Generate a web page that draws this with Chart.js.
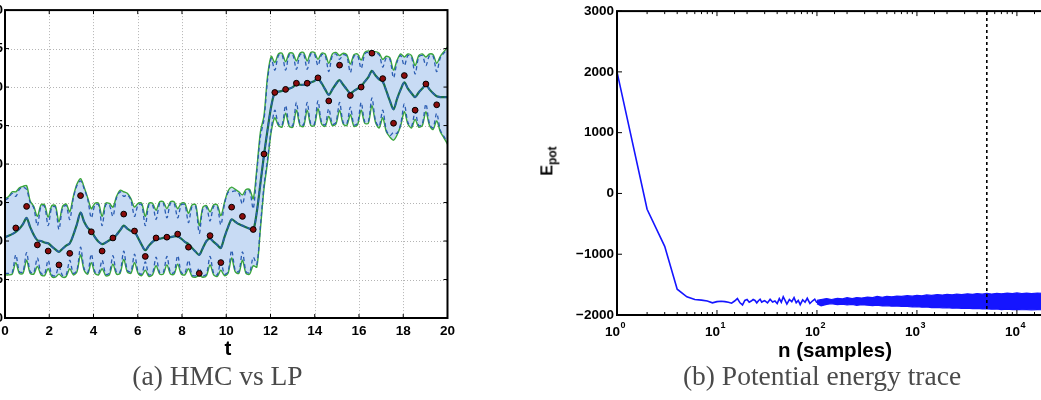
<!DOCTYPE html>
<html><head><meta charset="utf-8">
<script src="https://cdn.jsdelivr.net/npm/chart.js@4.4.1/dist/chart.umd.min.js"></script>
<style>
html,body{margin:0;padding:0;width:1041px;height:400px;overflow:hidden;background:#fff;}
#wrapA{position:absolute;left:-45px;top:0;width:505px;height:400px;}
#wrapB{position:absolute;left:557px;top:0;width:500px;height:400px;}
.lbl{position:absolute;transform:translate(-50%,-50%);white-space:nowrap;font-family:"Liberation Sans",Arial,sans-serif;font-weight:bold;color:#000;}
.cap{position:absolute;transform:translate(-50%,-50%);white-space:nowrap;font-family:"Liberation Serif","Times New Roman",serif;font-size:27.5px;color:#4a4a4a;}
</style></head>
<body>
<div id="wrapA"><canvas id="cA"></canvas></div>
<div id="wrapB"><canvas id="cB"></canvas></div>
<div class="lbl" style="left:228px;top:348px;font-size:20.5px;">t</div>
<div class="lbl" style="left:835px;top:350px;font-size:20.5px;">n (samples)</div>
<div class="lbl" style="left:549px;top:161px;transform:translate(-50%,-50%) rotate(-90deg);font-size:16px;">E<sub style="font-size:12px;">pot</sub></div>
<div class="cap" style="left:217.5px;top:376px;">(a) HMC vs LP</div>
<div class="cap" style="left:822px;top:376px;">(b) Potential energy trace</div>
<script>
// ---------- (a) HMC vs LP ----------
const tGrid = [
0, 0.163, 0.325,
0.488, 0.650, 0.813,
0.976, 1.138, 1.301,
1.463, 1.626, 1.789,
1.951, 2.114, 2.276,
2.439, 2.602, 2.764,
2.927, 3.089, 3.252,
3.415, 3.577, 3.740,
3.902, 4.065, 4.228,
4.390, 4.553, 4.715,
4.878, 5.041, 5.203,
5.366, 5.528, 5.691,
5.854, 6.016, 6.179,
6.341, 6.504, 6.667,
6.829, 6.992, 7.154,
7.317, 7.480, 7.642,
7.805, 7.967, 8.130,
8.293, 8.455, 8.618,
8.780, 8.943, 9.106,
9.268, 9.431, 9.593,
9.756, 9.919, 10.081,
10.244, 10.407, 10.569,
10.732, 10.894, 11.057,
11.220, 11.382, 11.545,
11.707, 11.870, 12.033,
12.195, 12.358, 12.520,
12.683, 12.846, 13.008,
13.171, 13.333, 13.496,
13.659, 13.821, 13.984,
14.146, 14.309, 14.472,
14.634, 14.797, 14.959,
15.122, 15.285, 15.447,
15.610, 15.772, 15.935,
16.098, 16.260, 16.423,
16.585, 16.748, 16.911,
17.073, 17.236, 17.398,
17.561, 17.724, 17.886,
18.049, 18.211, 18.374,
18.537, 18.699, 18.862,
19.024, 19.187, 19.350,
19.512, 19.675, 19.837,
20
];
const lpMean = [
-0.95, -0.93, -0.91,
-0.88, -0.84, -0.78,
-0.70, -0.82, -0.92,
-0.99, -1.00, -1.02,
-1.03, -1.07, -1.11,
-1.14, -1.10, -1.06,
-1.03, -0.92, -0.78,
-0.63, -0.75, -0.83,
-0.87, -0.95, -1.01,
-1.04, -1.02, -0.99,
-0.97, -0.92, -0.86,
-0.80, -0.84, -0.87,
-0.88, -0.96, -1.05,
-1.12, -1.06, -1.01,
-0.98, -0.97, -0.96,
-0.96, -0.95, -0.94,
-0.94, -0.97, -1.01,
-1.04, -1.09, -1.14,
-1.18, -1.09, -1.00,
-0.97, -1.01, -1.05,
-1.09, -0.95, -0.82,
-0.72, -0.75, -0.78,
-0.80, -0.82, -0.84,
-0.86, -0.62, -0.25,
0.12, 0.45, 0.75,
0.93, 0.94, 0.95,
0.96, 0.98, 1.00,
1.04, 1.03, 1.03,
1.04, 1.06, 1.08,
1.11, 1.05, 0.97,
0.90, 0.97, 1.04,
1.09, 1.03, 0.97,
0.92, 0.95, 0.98,
1.01, 1.07, 1.13,
1.21, 1.15, 1.10,
1.07, 0.95, 0.82,
0.71, 0.85, 0.97,
1.06, 0.98, 0.92,
0.87, 0.93, 0.98,
1.03, 0.97, 0.92,
0.88, 0.87, 0.87,
0.87
];
const lpUpper = [
-0.45, -0.42, -0.36,
-0.36, -0.31, -0.29,
-0.28, -0.48, -0.55,
-0.68, -0.53, -0.53,
-0.69, -0.54, -0.54,
-0.75, -0.55, -0.52,
-0.62, -0.42, -0.26,
-0.19, -0.30, -0.44,
-0.58, -0.51, -0.51,
-0.68, -0.51, -0.51,
-0.56, -0.42, -0.34,
-0.36, -0.38, -0.45,
-0.56, -0.51, -0.51,
-0.68, -0.51, -0.51,
-0.60, -0.49, -0.49,
-0.58, -0.49, -0.49,
-0.58, -0.51, -0.51,
-0.64, -0.53, -0.53,
-0.80, -0.56, -0.54,
-0.62, -0.53, -0.53,
-0.67, -0.50, -0.35,
-0.30, -0.33, -0.36,
-0.40, -0.33, -0.33,
-0.45, -0.06, 0.42,
0.63, 1.15, 1.40,
1.32, 1.43, 1.44,
1.33, 1.44, 1.44,
1.34, 1.44, 1.45,
1.34, 1.45, 1.45,
1.36, 1.44, 1.43,
1.31, 1.43, 1.45,
1.41, 1.44, 1.42,
1.30, 1.42, 1.43,
1.35, 1.45, 1.47,
1.46, 1.46, 1.44,
1.36, 1.40, 1.38,
1.22, 1.35, 1.43,
1.39, 1.43, 1.41,
1.28, 1.41, 1.43,
1.39, 1.43, 1.42,
1.31, 1.40, 1.46,
1.52
];
const lpLower = [
-1.44, -1.44, -1.43,
-1.28, -1.42, -1.42,
-1.25, -1.42, -1.43,
-1.33, -1.44, -1.45,
-1.36, -1.46, -1.47,
-1.43, -1.47, -1.46,
-1.36, -1.44, -1.40,
-1.18, -1.38, -1.43,
-1.28, -1.42, -1.44,
-1.36, -1.45, -1.44,
-1.30, -1.43, -1.42,
-1.24, -1.40, -1.42,
-1.28, -1.42, -1.45,
-1.38, -1.46, -1.44,
-1.32, -1.43, -1.43,
-1.31, -1.43, -1.43,
-1.30, -1.43, -1.44,
-1.36, -1.46, -1.47,
-1.45, -1.47, -1.45,
-1.31, -1.44, -1.46,
-1.38, -1.45, -1.42,
-1.22, -1.40, -1.42,
-1.25, -1.42, -1.43,
-1.32, -1.34, -0.84,
-0.32, 0.03, 0.42,
0.60, 0.50, 0.48,
0.66, 0.49, 0.48,
0.70, 0.50, 0.49,
0.70, 0.50, 0.50,
0.72, 0.52, 0.49,
0.62, 0.50, 0.52,
0.70, 0.52, 0.50,
0.64, 0.49, 0.51,
0.70, 0.53, 0.53,
0.76, 0.54, 0.47,
0.60, 0.42, 0.35,
0.31, 0.38, 0.50,
0.68, 0.52, 0.47,
0.58, 0.48, 0.50,
0.68, 0.50, 0.45,
0.56, 0.42, 0.34,
0.26
];
const hmcUpper = [
-0.47, -0.44, -0.38,
-0.42, -0.33, -0.30,
-0.33, -0.50, -0.57,
-0.80, -0.55, -0.55,
-0.80, -0.56, -0.56,
-0.85, -0.57, -0.54,
-0.72, -0.44, -0.28,
-0.22, -0.32, -0.46,
-0.70, -0.53, -0.53,
-0.80, -0.53, -0.53,
-0.68, -0.44, -0.36,
-0.42, -0.40, -0.47,
-0.68, -0.53, -0.53,
-0.80, -0.53, -0.53,
-0.72, -0.51, -0.51,
-0.70, -0.51, -0.51,
-0.70, -0.53, -0.53,
-0.76, -0.55, -0.55,
-0.90, -0.58, -0.56,
-0.74, -0.55, -0.55,
-0.79, -0.52, -0.37,
-0.36, -0.35, -0.38,
-0.52, -0.35, -0.35,
-0.58, -0.10, 0.36,
0.58, 1.10, 1.37,
1.22, 1.41, 1.42,
1.22, 1.42, 1.42,
1.23, 1.42, 1.43,
1.23, 1.43, 1.43,
1.28, 1.42, 1.41,
1.20, 1.41, 1.43,
1.36, 1.42, 1.40,
1.19, 1.40, 1.41,
1.24, 1.43, 1.45,
1.42, 1.44, 1.42,
1.26, 1.38, 1.36,
1.12, 1.33, 1.41,
1.28, 1.41, 1.39,
1.17, 1.39, 1.41,
1.28, 1.41, 1.40,
1.20, 1.38, 1.44,
1.50
];
const hmcLower = [
-1.42, -1.42, -1.41,
-1.18, -1.40, -1.40,
-1.15, -1.40, -1.41,
-1.22, -1.42, -1.43,
-1.25, -1.44, -1.45,
-1.33, -1.45, -1.44,
-1.25, -1.42, -1.38,
-1.08, -1.36, -1.41,
-1.17, -1.40, -1.42,
-1.25, -1.43, -1.42,
-1.19, -1.41, -1.40,
-1.13, -1.38, -1.40,
-1.17, -1.40, -1.43,
-1.27, -1.44, -1.42,
-1.21, -1.41, -1.41,
-1.20, -1.41, -1.41,
-1.19, -1.41, -1.42,
-1.25, -1.44, -1.45,
-1.35, -1.45, -1.43,
-1.20, -1.42, -1.44,
-1.27, -1.43, -1.40,
-1.12, -1.38, -1.40,
-1.14, -1.40, -1.41,
-1.21, -1.30, -0.80,
-0.28, 0.07, 0.45,
0.70, 0.52, 0.50,
0.76, 0.51, 0.50,
0.80, 0.52, 0.51,
0.80, 0.52, 0.52,
0.82, 0.54, 0.51,
0.72, 0.52, 0.54,
0.80, 0.54, 0.52,
0.74, 0.51, 0.53,
0.80, 0.55, 0.55,
0.86, 0.56, 0.49,
0.70, 0.44, 0.37,
0.41, 0.40, 0.52,
0.78, 0.54, 0.49,
0.68, 0.50, 0.52,
0.78, 0.52, 0.47,
0.66, 0.44, 0.36,
0.28
];
const obsT = [0.488, 0.976, 1.463, 1.951, 2.439, 2.927, 3.415, 3.902, 4.390, 4.878,
  5.366, 5.854, 6.341, 6.829, 7.317, 7.805, 8.293, 8.780, 9.268, 9.756,
  10.244, 10.732, 11.220, 11.707, 12.195, 12.683, 13.171, 13.659, 14.146, 14.634,
  15.122, 15.610, 16.098, 16.585, 17.073, 17.561, 18.049, 18.537, 19.024, 19.512];
const obsY = [-0.83, -0.55, -1.05, -1.13, -1.31, -1.16, -0.41, -0.88, -1.13, -0.96,
  -0.65, -0.87, -1.20, -0.96, -0.95, -0.91, -1.08, -1.42, -0.93, -1.28,
  -0.56, -0.68, -0.85, 0.13, 0.93, 0.97, 1.05, 1.05, 1.12, 0.82,
  1.285, 0.89, 1.00, 1.44, 1.11, 0.53, 1.15, 0.70, 1.04, 0.77];

// ---------- (b) Potential energy trace ----------
const nTrace = [1,2,3,4,5,6,7,8,9,10,11,12,13,14,15,16,17,18,19,20,21,22,23,24,25,26,27,28,29,30,
  32,34,36,38,40,42,44,46,48,50,53,56,59,62,65,68,72,76,80,85,90,95,100];
const eTrace = [2000,-260,-870,-1575,-1700,-1745,-1755,-1770,-1800,-1780,-1775,-1780,-1790,-1805,-1770,-1730,-1800,-1835,-1760,-1745,
  -1790,-1770,-1745,-1760,-1800,-1765,-1740,-1790,-1775,-1765,
  -1800,-1740,-1785,-1770,-1810,-1730,-1790,-1700,-1760,-1820,-1745,-1780,-1715,-1800,-1760,-1830,-1750,-1790,-1725,-1810,-1770,-1740,-1800];
const nEnv = [100,110,125,140,160,180,200,225,250,280,320,360,400,450,500,560,630,700,800,900,
  1000,1120,1250,1400,1600,1800,2000,2250,2500,2800,3200,3600,4000,4500,5000,5600,6300,7000,8000,9000,
  10000,11200,12500,14000,16000,18000,20000];
const eUpper = [-1760,-1745,-1730,-1745,-1725,-1735,-1715,-1730,-1712,-1722,-1705,-1715,-1695,-1708,-1692,-1700,-1688,-1695,-1682,-1690,
  -1676,-1684,-1670,-1678,-1664,-1672,-1660,-1668,-1655,-1665,-1652,-1660,-1648,-1658,-1645,-1655,-1642,-1650,-1640,-1648,
  -1636,-1646,-1640,-1648,-1638,-1645,-1640];
const eLower = [-1815,-1850,-1825,-1815,-1830,-1820,-1835,-1825,-1840,-1830,-1838,-1845,-1840,-1850,-1848,-1855,-1852,-1860,-1858,-1868,
  -1862,-1872,-1868,-1878,-1874,-1882,-1878,-1888,-1884,-1892,-1888,-1896,-1892,-1900,-1898,-1905,-1900,-1910,-1905,-1912,
  -1908,-1914,-1910,-1915,-1910,-1914,-1912];
const burnIn = 5000;
const eTicks = [-2000,-1000,0,1000,2000,3000];
const nDecades = [1,10,100,1000,10000];

// ---------- helpers ----------
const pts = (xs, ys) => xs.map((x, i) => ({x: x, y: ys[i]}));
const TICKFONT = {family: '"Liberation Sans", Arial, sans-serif', size: 13.5, weight: 'bold'};
const fillColor = '#c8dbf4';
const lpColor = '#3aa63a';
const hmcColor = '#2a5cb2';
const meanColor = '#17704a';
const NOGRID = {display: false, drawTicks: false, tickLength: 0};

const boxA = {
  id: 'boxA',
  beforeDraw(chart) {
    const {ctx, chartArea: a, scales: {x, y}} = chart;
    ctx.save();
    ctx.strokeStyle = '#b4b4b4'; ctx.lineWidth = 1; ctx.setLineDash([1, 2]);
    x.ticks.forEach(t => { const px = Math.round(x.getPixelForValue(t.value)) + 0.5;
      ctx.beginPath(); ctx.moveTo(px, a.top); ctx.lineTo(px, a.bottom); ctx.stroke(); });
    y.ticks.forEach(t => { const py = Math.round(y.getPixelForValue(t.value)) + 0.5;
      ctx.beginPath(); ctx.moveTo(a.left, py); ctx.lineTo(a.right, py); ctx.stroke(); });
    ctx.restore();
  },
  afterDraw(chart) {
    const {ctx, chartArea: a, scales: {x, y}} = chart;
    ctx.save();
    ctx.strokeStyle = '#000'; ctx.lineWidth = 1; ctx.setLineDash([]);
    x.ticks.forEach(t => { const px = x.getPixelForValue(t.value);
      ctx.beginPath(); ctx.moveTo(px, a.bottom); ctx.lineTo(px, a.bottom - 4);
      ctx.moveTo(px, a.top); ctx.lineTo(px, a.top + 4); ctx.stroke(); });
    y.ticks.forEach(t => { const py = y.getPixelForValue(t.value);
      ctx.beginPath(); ctx.moveTo(a.left, py); ctx.lineTo(a.left + 4, py);
      ctx.moveTo(a.right, py); ctx.lineTo(a.right - 4, py); ctx.stroke(); });
    ctx.lineWidth = 2;
    ctx.strokeRect(a.left, a.top, a.right - a.left, a.bottom - a.top);
    ctx.restore();
  }
};

new Chart(document.getElementById('cA'), {
  type: 'line',
  data: {datasets: [
    {data: pts(obsT, obsY), showLine: false, pointRadius: 2.9, pointBackgroundColor: '#8a0c0c', pointBorderColor: '#000', pointBorderWidth: 1},
    {data: pts(tGrid, lpMean), borderColor: hmcColor, borderWidth: 1.4, borderDash: [4, 3], tension: 0.3, fill: false},
    {data: pts(tGrid, lpMean), borderColor: meanColor, borderWidth: 2.2, tension: 0.3, fill: false},
    {data: pts(tGrid, hmcUpper), borderColor: hmcColor, borderWidth: 1.3, borderDash: [4, 3], tension: 0.3, fill: false},
    {data: pts(tGrid, hmcLower), borderColor: hmcColor, borderWidth: 1.3, borderDash: [4, 3], tension: 0.3, fill: false},
    {data: pts(tGrid, lpUpper), borderColor: lpColor, borderWidth: 1.4, tension: 0.3, fill: 6, backgroundColor: fillColor},
    {data: pts(tGrid, lpLower), borderColor: lpColor, borderWidth: 1.4, tension: 0.3, fill: false}
  ]},
  options: {
    responsive: true, maintainAspectRatio: false, animation: false, devicePixelRatio: 1,
    layout: {padding: {left: 0, right: 9, top: 10, bottom: 0}},
    elements: {point: {radius: 0}},
    plugins: {legend: {display: false}, tooltip: {enabled: false}, filler: {drawTime: 'beforeDatasetsDraw'}},
    scales: {
      x: {type: 'linear', min: 0, max: 20,
          ticks: {stepSize: 2, autoSkip: false, maxRotation: 0, padding: 5, color: '#000', font: TICKFONT},
          grid: NOGRID, border: {display: false}, afterFit: s => { s.height = 82; }},
      y: {type: 'linear', min: -2, max: 2,
          ticks: {stepSize: 0.5, padding: 2, color: '#000', font: TICKFONT},
          grid: NOGRID, border: {display: false}, afterFit: s => { s.width = 50; }}
    }
  },
  plugins: [boxA]
});

const boxB = {
  id: 'boxB',
  afterDraw(chart) {
    const {ctx, chartArea: a, scales: {x, y}} = chart;
    ctx.save();
    ctx.strokeStyle = '#000'; ctx.lineWidth = 1; ctx.setLineDash([]);
    x.ticks.forEach(t => {
      const px = x.getPixelForValue(t.value);
      const lg = Math.log10(t.value);
      const major = Math.abs(lg - Math.round(lg)) < 1e-9;
      const len = major ? 5 : 3;
      ctx.beginPath(); ctx.moveTo(px, a.bottom); ctx.lineTo(px, a.bottom - len);
      ctx.moveTo(px, a.top); ctx.lineTo(px, a.top + len); ctx.stroke();
    });
    y.ticks.forEach(t => { const py = y.getPixelForValue(t.value);
      ctx.beginPath(); ctx.moveTo(a.left, py); ctx.lineTo(a.left + 5, py);
      ctx.moveTo(a.right, py); ctx.lineTo(a.right - 5, py); ctx.stroke(); });
    ctx.lineWidth = 2;
    ctx.strokeRect(a.left, a.top, a.right - a.left, a.bottom - a.top);
    // decade labels 10^k
    ctx.fillStyle = '#000';
    nDecades.forEach(v => {
      const px = x.getPixelForValue(v);
      const ex = String(Math.round(Math.log10(v)));
      ctx.font = 'bold 13.5px "Liberation Sans", Arial, sans-serif';
      ctx.textAlign = 'right'; ctx.textBaseline = 'middle';
      ctx.fillText('10', px + 3, 332);
      ctx.font = 'bold 9px "Liberation Sans", Arial, sans-serif';
      ctx.textAlign = 'left';
      ctx.fillText(ex, px + 3.5, 326);
    });
    ctx.restore();
  }
};

new Chart(document.getElementById('cB'), {
  type: 'line',
  data: {datasets: [
    {data: [{x: burnIn, y: -2000}, {x: burnIn, y: 3000}], borderColor: '#000', borderWidth: 1.6, borderDash: [3, 3], fill: false},
    {data: pts(nTrace, eTrace), borderColor: '#1515ff', borderWidth: 1.6, tension: 0, fill: false},
    {data: pts(nEnv, eUpper), borderColor: '#1515ff', borderWidth: 1.2, tension: 0, fill: 3, backgroundColor: '#1515ff'},
    {data: pts(nEnv, eLower), borderColor: '#1515ff', borderWidth: 1.2, tension: 0, fill: false}
  ]},
  options: {
    responsive: true, maintainAspectRatio: false, animation: false, devicePixelRatio: 1,
    layout: {padding: {left: 0, right: 10, top: 10, bottom: 0}},
    elements: {point: {radius: 0}},
    plugins: {legend: {display: false}, tooltip: {enabled: false}, filler: {drawTime: 'beforeDatasetsDraw'}},
    scales: {
      x: {type: 'logarithmic', min: 1, max: 20000, ticks: {display: false},
          grid: NOGRID, border: {display: false}, afterFit: s => { s.height = 85; }},
      y: {type: 'linear', min: -2000, max: 3000,
          afterBuildTicks: s => { s.ticks = eTicks.map(v => ({value: v})); },
          ticks: {padding: 3, color: '#000', font: TICKFONT,
                  callback: v => (v < 0 ? '\u2212' + Math.abs(v) : String(v))},
          grid: NOGRID, border: {display: false}, afterFit: s => { s.width = 60; }}
    }
  },
  plugins: [boxB]
});
</script>
</body></html>
